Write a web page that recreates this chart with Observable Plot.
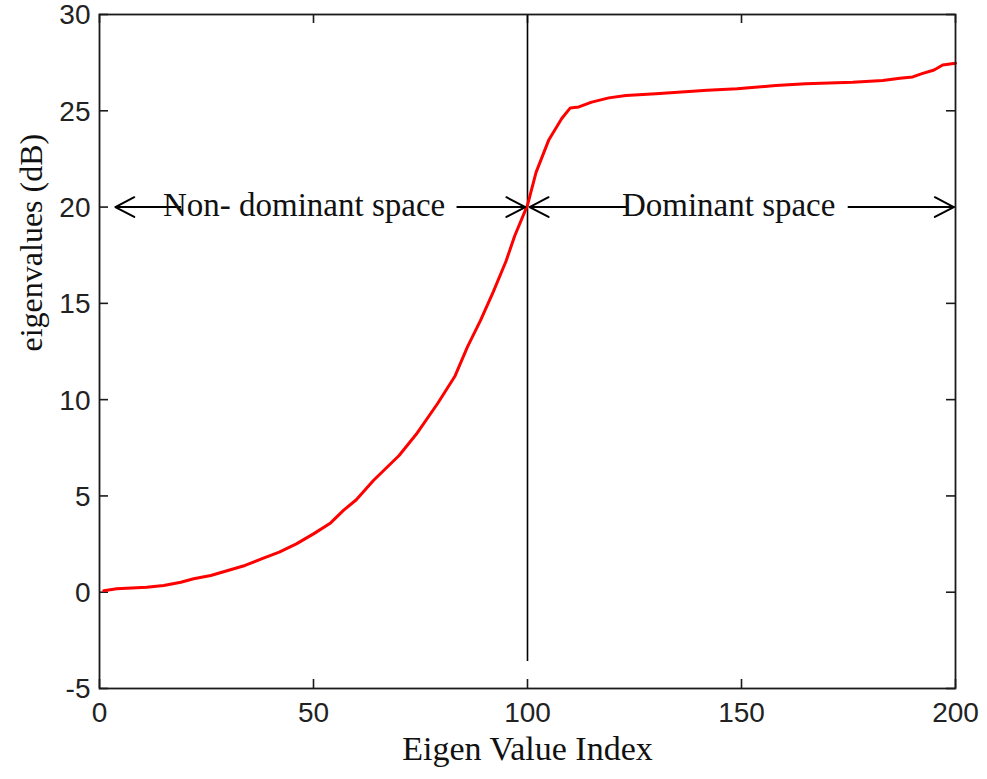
<!DOCTYPE html>
<html>
<head>
<meta charset="utf-8">
<script src="https://cdn.jsdelivr.net/npm/d3@7"></script>
<script src="https://cdn.jsdelivr.net/npm/@observablehq/plot@0.6"></script>
<style>
  html, body { margin: 0; padding: 0; background: #fff; }
  #chart svg { display: block; }
</style>
</head>
<body>
<div id="chart"></div>
<script>
// Sorted eigenvalue spectrum (dB) against eigenvalue index
const eigenIndex = [1, 4, 11, 15, 19, 22, 26, 30, 34, 38, 42, 46, 50, 54, 57, 60, 64, 70, 74, 79,
  83, 86, 89, 92, 95, 97, 100, 102, 105, 108, 110, 112, 115, 119, 123, 130, 136, 142, 149, 158,
  165, 176, 183, 187, 190, 192, 195, 197, 200];
const eigenDb = [0.08, 0.18, 0.26, 0.35, 0.52, 0.70, 0.87, 1.13, 1.39, 1.74, 2.08, 2.51, 3.03, 3.60, 4.25, 4.80, 5.80, 7.10, 8.20, 9.80,
  11.2, 12.75, 14.1, 15.6, 17.2, 18.5, 20.1, 21.8, 23.5, 24.6, 25.15, 25.2, 25.45, 25.67, 25.79, 25.88, 25.97, 26.07, 26.14, 26.31,
  26.40, 26.48, 26.57, 26.69, 26.76, 26.92, 27.12, 27.38, 27.47];

const xTicks = [0, 50, 100, 150, 200];
const yTicks = [-5, 0, 5, 10, 15, 20, 25, 30];

// Boundary between the two subspaces
const splitIndex = 100;
const splitSpan = [-3.6, 30];

// Annotation arrows (index / dB): tail -> tip
const arrowFromX = [18.9, 83.6, 122.9, 175];
const arrowToX = [3.7, 99.5, 100.5, 199.6];
const arrowLevel = 20;

const spaceLabels = ["Non- dominant space", "Dominant space"];
const spaceLabelX = [47.8, 147];

const curve = eigenIndex.map((x, i) => ({x, y: eigenDb[i]}));
const arrows = arrowFromX.map((x1, i) => ({x1, x2: arrowToX[i], y: arrowLevel}));
const notes = spaceLabels.map((t, i) => ({t, x: spaceLabelX[i], y: arrowLevel}));

const W = 987, H = 779;
const mL = 99, mR = 32, mT = 14, mB = 91;
const frameW = W - mL - mR, frameH = H - mT - mB;
const tickLen = 9;
const ink = "#1a1a1a";
const serif = "'Liberation Serif', 'Times New Roman', serif";
const sans = "'Liberation Sans', Arial, sans-serif";

const chart = Plot.plot({
  width: W,
  height: H,
  marginLeft: mL,
  marginRight: mR,
  marginTop: mT,
  marginBottom: mB,
  style: {background: "#fff", overflow: "visible"},
  x: {domain: [0, 200], axis: null},
  y: {domain: [-5, 30], axis: null},
  marks: [
    // inward ticks on all four sides
    Plot.ruleX(xTicks, {x: d => d, insetTop: frameH - tickLen, stroke: ink, strokeWidth: 1.6}),
    Plot.ruleX(xTicks, {x: d => d, insetBottom: frameH - tickLen, stroke: ink, strokeWidth: 1.6}),
    Plot.ruleY(yTicks, {y: d => d, insetRight: frameW - tickLen, stroke: ink, strokeWidth: 1.6}),
    Plot.ruleY(yTicks, {y: d => d, insetLeft: frameW - tickLen, stroke: ink, strokeWidth: 1.6}),
    // tick labels
    Plot.text(xTicks, {x: d => d, frameAnchor: "bottom", text: d => String(d), dy: 25,
      lineAnchor: "middle", fontFamily: sans, fontSize: 28, fill: "#222"}),
    Plot.text(yTicks, {y: d => d, frameAnchor: "left", text: d => String(d), dx: -9, dy: 1,
      textAnchor: "end", lineAnchor: "middle", fontFamily: sans, fontSize: 28, fill: "#222"}),
    // subspace boundary
    Plot.ruleX([splitIndex], {x: d => d, y1: splitSpan[0], y2: splitSpan[1], stroke: "#000", strokeWidth: 1.6}),
    // eigenvalue curve
    Plot.line(curve, {x: "x", y: "y", stroke: "#ff0000", strokeWidth: 3, curve: "linear"}),
    // annotation arrows and labels
    Plot.arrow(arrows, {x1: "x1", x2: "x2", y1: "y", y2: "y", stroke: "#000", strokeWidth: 2,
      headLength: 16, headAngle: 55}),
    Plot.text(notes, {x: "x", y: "y", text: "t", dy: -2, lineAnchor: "middle",
      fontFamily: serif, fontSize: 33, fill: "#111"}),
    // axis titles
    Plot.text(["Eigen Value Index"], {frameAnchor: "bottom", text: d => d, dy: 61,
      lineAnchor: "middle", fontFamily: serif, fontSize: 34, fill: "#111"}),
    Plot.text(["eigenvalues (dB)"], {frameAnchor: "left", text: d => d, dx: -68, rotate: -90,
      lineAnchor: "middle", fontFamily: serif, fontSize: 32, fill: "#111"}),
    Plot.frame({stroke: ink, strokeWidth: 1.8})
  ]
});

document.getElementById("chart").appendChild(chart);
</script>
</body>
</html>
